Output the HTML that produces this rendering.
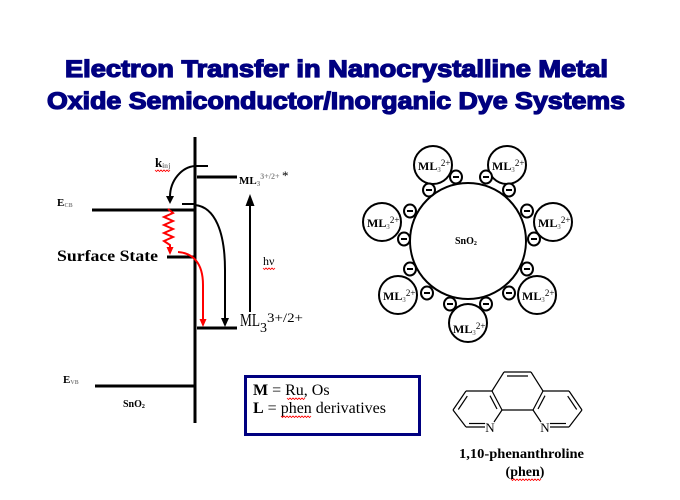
<!DOCTYPE html>
<html><head><meta charset="utf-8"><style>
html,body{margin:0;padding:0;background:#fff;}
svg{display:block;}
.s{font-family:"Liberation Serif",serif;}
</style></head><body>
<svg width="680" height="500" viewBox="0 0 680 500" xmlns="http://www.w3.org/2000/svg">
<rect width="680" height="500" fill="#fff"/>
<!-- Title -->
<g font-family="Liberation Sans, sans-serif" font-weight="bold" font-size="24" fill="#000080" stroke="#000080" stroke-width="1.3" text-anchor="middle">
<text x="336.5" y="77" textLength="543" lengthAdjust="spacingAndGlyphs">Electron Transfer in Nanocrystalline Metal</text>
<text x="336" y="109" textLength="578" lengthAdjust="spacingAndGlyphs">Oxide Semiconductor/Inorganic Dye Systems</text>
</g>

<!-- Left energy diagram -->
<g stroke="#000" fill="none">
<line x1="195" y1="137" x2="195" y2="423" stroke-width="3"/>
<line x1="195" y1="166" x2="208" y2="166" stroke-width="2"/>
<line x1="197" y1="177" x2="237" y2="177" stroke-width="3"/>
<line x1="92" y1="210" x2="195" y2="210" stroke-width="3"/>
<line x1="182" y1="204" x2="195" y2="204" stroke-width="2"/>
<line x1="167" y1="257" x2="195" y2="257" stroke-width="3"/>
<line x1="197" y1="328" x2="237" y2="328" stroke-width="3"/>
<line x1="95" y1="386" x2="195" y2="386" stroke-width="3"/>
<path d="M195,166 C182,167 170,180 170,197" stroke-width="2"/>
<path d="M195,205 C215,207 225,232 225,270 L225,319" stroke-width="2"/>
<line x1="250" y1="312" x2="250" y2="203" stroke-width="2"/>
</g>
<g fill="#000">
<polygon points="166,196 174,196 170,204"/>
<polygon points="221,318 229,318 225,327"/>
<polygon points="245.5,206 254.5,206 250,194"/>
</g>
<g stroke="#f00" fill="none" stroke-width="2">
<path d="M168,209 L173,213 L164,217 L173,221 L164,225 L173,229 L164,233 L173,237 L164,241 L170,245 L170,248"/>
<path d="M178,252 C192,253 203,262 203,285 L203,320"/>
</g>
<g fill="#f00">
<polygon points="166.5,247 173.5,247 170,255"/>
<polygon points="199.5,319 206.5,319 203,327"/>
</g>

<g class="s" fill="#000">
<text x="155" y="167" font-size="13" font-weight="bold">k<tspan font-size="7" fill="#888" dy="1">inj</tspan></text>
<text x="57" y="206" font-size="11" font-weight="bold">E<tspan font-size="6" fill="#888" dy="1">CB</tspan></text>
<text x="57" y="261" font-size="16" font-weight="bold" textLength="101" lengthAdjust="spacingAndGlyphs">Surface State</text>
<text x="239" y="184" font-size="11" font-weight="bold">ML<tspan font-size="7" fill="#888" dy="2">3</tspan><tspan font-size="8" fill="#888" dy="-7">3+/2+</tspan></text>
<text x="282" y="180" font-size="13">*</text>
<text x="263" y="265" font-size="12">hν</text>
<text x="240" y="326" font-size="18" textLength="20" lengthAdjust="spacingAndGlyphs">ML</text>
<text x="260" y="332" font-size="14">3</text>
<text x="267" y="322" font-size="13" textLength="36" lengthAdjust="spacingAndGlyphs">3+/2+</text>
<text x="63" y="383" font-size="11" font-weight="bold">E<tspan font-size="6" fill="#888" dy="1">VB</tspan></text>
<text x="123" y="407" font-size="10" font-weight="bold">SnO<tspan font-size="6" dy="1">2</tspan></text>
</g>
<g stroke="#f00" fill="none" stroke-width="0.8">
<path d="M155,170 l1.5,1.5 l1.5,-1.5 l1.5,1.5 l1.5,-1.5 l1.5,1.5 l1.5,-1.5 l1.5,1.5 l1.5,-1.5 l1.5,1.5 l1.5,-1.5"/>
<path d="M263,268 l1.5,1.5 l1.5,-1.5 l1.5,1.5 l1.5,-1.5 l1.5,1.5 l1.5,-1.5 l1.5,1.5 l1.5,-1.5"/>
</g>

<rect x="245.5" y="376.5" width="174" height="58" fill="none" stroke="#000080" stroke-width="3"/>
<g class="s" fill="#000" font-size="16">
<text x="253" y="395"><tspan font-weight="bold">M</tspan> = Ru, Os</text>
<text x="253" y="413"><tspan font-weight="bold">L</tspan> = phen derivatives</text>
</g>
<g stroke="#f00" fill="none" stroke-width="0.8">
<path d="M287,398 l1.5,1.5 l1.5,-1.5 l1.5,1.5 l1.5,-1.5 l1.5,1.5 l1.5,-1.5 l1.5,1.5 l1.5,-1.5 l1.5,1.5 l1.5,-1.5 l1.5,1.5 l1.5,-1.5"/>
<path d="M281,416 l1.5,1.5 l1.5,-1.5 l1.5,1.5 l1.5,-1.5 l1.5,1.5 l1.5,-1.5 l1.5,1.5 l1.5,-1.5 l1.5,1.5 l1.5,-1.5 l1.5,1.5 l1.5,-1.5 l1.5,1.5 l1.5,-1.5 l1.5,1.5 l1.5,-1.5 l1.5,1.5 l1.5,-1.5 l1.5,1.5 l1.5,-1.5"/>
</g>

<g stroke="#000" stroke-width="2" fill="#fff">
<circle cx="468" cy="241" r="58"/>
<circle cx="433" cy="165" r="19"/>
<circle cx="507" cy="165" r="19"/>
<circle cx="382" cy="222" r="19"/>
<circle cx="553" cy="222" r="19"/>
<circle cx="398" cy="295" r="19"/>
<circle cx="537" cy="295" r="19"/>
<circle cx="468" cy="323" r="19"/>
</g>
<g stroke="#000" stroke-width="2" fill="#fff">
<ellipse cx="456" cy="177" rx="6" ry="6.5"/><line x1="453" y1="177" x2="459" y2="177"/>
<ellipse cx="486" cy="177" rx="6" ry="6.5"/><line x1="483" y1="177" x2="489" y2="177"/>
<ellipse cx="429" cy="190" rx="6" ry="6.5"/><line x1="426" y1="190" x2="432" y2="190"/>
<ellipse cx="509" cy="190" rx="6" ry="6.5"/><line x1="506" y1="190" x2="512" y2="190"/>
<ellipse cx="410" cy="211" rx="6" ry="6.5"/><line x1="407" y1="211" x2="413" y2="211"/>
<ellipse cx="527" cy="211" rx="6" ry="6.5"/><line x1="524" y1="211" x2="530" y2="211"/>
<ellipse cx="404" cy="239" rx="6" ry="6.5"/><line x1="401" y1="239" x2="407" y2="239"/>
<ellipse cx="534" cy="239" rx="6" ry="6.5"/><line x1="531" y1="239" x2="537" y2="239"/>
<ellipse cx="410" cy="269" rx="6" ry="6.5"/><line x1="407" y1="269" x2="413" y2="269"/>
<ellipse cx="527" cy="269" rx="6" ry="6.5"/><line x1="524" y1="269" x2="530" y2="269"/>
<ellipse cx="427" cy="293" rx="6" ry="6.5"/><line x1="424" y1="293" x2="430" y2="293"/>
<ellipse cx="509" cy="293" rx="6" ry="6.5"/><line x1="506" y1="293" x2="512" y2="293"/>
<ellipse cx="450" cy="304" rx="6" ry="6.5"/><line x1="447" y1="304" x2="453" y2="304"/>
<ellipse cx="486" cy="304" rx="6" ry="6.5"/><line x1="483" y1="304" x2="489" y2="304"/>
</g>
<g class="s" fill="#000" font-weight="bold">
<text x="455" y="244" font-size="10">SnO<tspan font-size="6" dy="1">2</tspan></text>
<text x="418" y="170" font-size="12">ML<tspan font-size="7" fill="#888" dy="2">3</tspan><tspan font-size="9" font-weight="normal" dy="-6">2+</tspan></text>
<text x="492" y="170" font-size="12">ML<tspan font-size="7" fill="#888" dy="2">3</tspan><tspan font-size="9" font-weight="normal" dy="-6">2+</tspan></text>
<text x="367" y="227" font-size="12">ML<tspan font-size="7" fill="#888" dy="2">3</tspan><tspan font-size="9" font-weight="normal" dy="-6">2+</tspan></text>
<text x="538" y="227" font-size="12">ML<tspan font-size="7" fill="#888" dy="2">3</tspan><tspan font-size="9" font-weight="normal" dy="-6">2+</tspan></text>
<text x="383" y="300" font-size="12">ML<tspan font-size="7" fill="#888" dy="2">3</tspan><tspan font-size="9" font-weight="normal" dy="-6">2+</tspan></text>
<text x="522" y="300" font-size="12">ML<tspan font-size="7" fill="#888" dy="2">3</tspan><tspan font-size="9" font-weight="normal" dy="-6">2+</tspan></text>
<text x="453" y="333" font-size="12">ML<tspan font-size="7" fill="#888" dy="2">3</tspan><tspan font-size="9" font-weight="normal" dy="-6">2+</tspan></text>
</g>

<g stroke="#000" stroke-width="1.2" fill="none">
<line x1="453" y1="410" x2="466" y2="391"/>
<line x1="466" y1="391" x2="492" y2="391"/>
<line x1="492" y1="391" x2="502" y2="410"/>
<line x1="502" y1="410" x2="494" y2="422"/>
<line x1="485" y1="427" x2="466" y2="427"/>
<line x1="466" y1="427" x2="453" y2="410"/>
<line x1="458.3" y1="409.5" x2="467.3" y2="396.1"/>
<line x1="490" y1="395.7" x2="497" y2="409"/>
<line x1="469" y1="423.5" x2="485" y2="423.5"/>
<line x1="492" y1="391" x2="504" y2="372"/>
<line x1="504" y1="372" x2="531" y2="372"/>
<line x1="531" y1="372" x2="543" y2="391"/>
<line x1="502" y1="410" x2="533" y2="410"/>
<line x1="507" y1="376" x2="528" y2="376"/>
<line x1="582" y1="410" x2="569" y2="391"/>
<line x1="569" y1="391" x2="543" y2="391"/>
<line x1="543" y1="391" x2="533" y2="410"/>
<line x1="533" y1="410" x2="541" y2="422"/>
<line x1="550" y1="427" x2="569" y2="427"/>
<line x1="569" y1="427" x2="582" y2="410"/>
<line x1="576.7" y1="409.5" x2="567.7" y2="396.1"/>
<line x1="545" y1="395.7" x2="538" y2="409"/>
<line x1="550" y1="423.5" x2="566" y2="423.5"/>
</g>
<g class="s" fill="#000" font-size="13" text-anchor="middle">
<text x="490" y="432">N</text>
<text x="545" y="432">N</text>
</g>
<g class="s" fill="#000" font-size="14" font-weight="bold" text-anchor="middle">
<text x="521.5" y="458" textLength="125" lengthAdjust="spacingAndGlyphs">1,10-phenanthroline</text>
<text x="525" y="476">(phen)</text>
</g>
<path d="M511,479 l1.5,1.5 l1.5,-1.5 l1.5,1.5 l1.5,-1.5 l1.5,1.5 l1.5,-1.5 l1.5,1.5 l1.5,-1.5 l1.5,1.5 l1.5,-1.5 l1.5,1.5 l1.5,-1.5 l1.5,1.5 l1.5,-1.5 l1.5,1.5 l1.5,-1.5 l1.5,1.5 l1.5,-1.5 l1.5,1.5 l1.5,-1.5" stroke="#f00" stroke-width="0.8" fill="none"/>
</svg>
</body></html>
